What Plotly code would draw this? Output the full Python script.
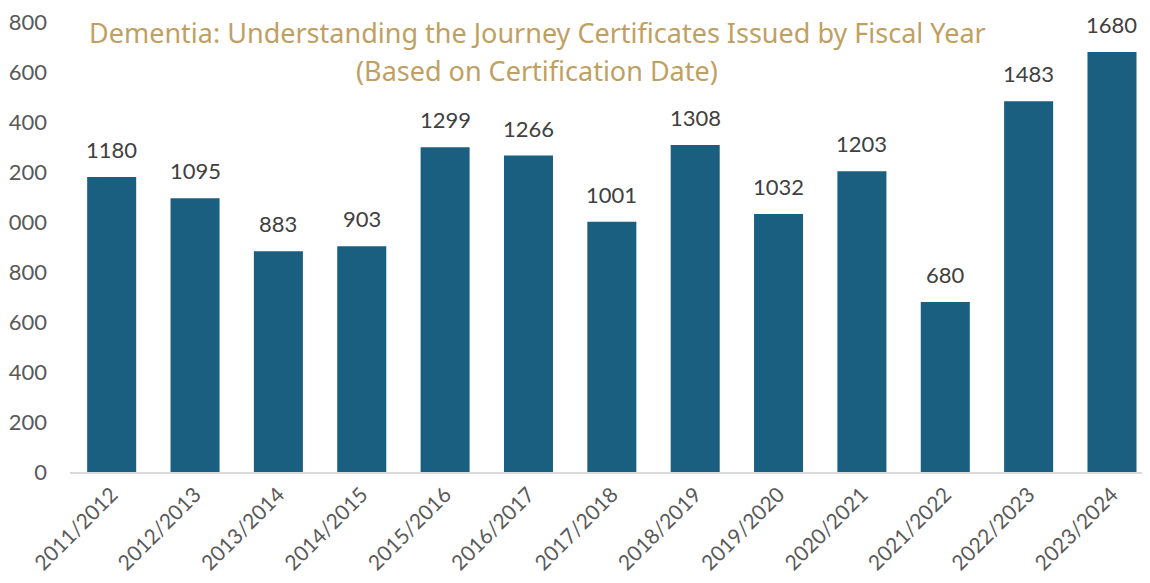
import plotly.graph_objects as go

years = ["2011/2012", "2012/2013", "2013/2014", "2014/2015", "2015/2016", "2016/2017",
         "2017/2018", "2018/2019", "2019/2020", "2020/2021", "2021/2022", "2022/2023", "2023/2024"]
certificates = [1180, 1095, 883, 903, 1299, 1266, 1001, 1308, 1032, 1203, 680, 1483, 1680]

# y tick values and the labels as they appear (leading digit cut off in the source)
y_ticks = [0, 200, 400, 600, 800, 1000, 1200, 1400, 1600, 1800]
y_tick_text = ["0", "200", "400", "600", "800", "000", "200", "400", "600", "800"]

title_line1 = "Dementia: Understanding the Journey Certificates Issued by Fiscal Year"
title_line2 = "(Based on Certification Date)"

fig = go.Figure(go.Bar(
    x=years, y=certificates,
    marker_color="#1A5F80",
    marker_line_width=0,
))

# value labels above bars
for yr, val in zip(years, certificates):
    fig.add_annotation(x=yr, y=val, text=str(val), showarrow=False,
                       yanchor="bottom", yshift=12,
                       font=dict(size=22, color="#404040", family="Lato"))

# page has an 8px body margin; keep the figure inside the window so nothing gets cut
plot_top, plot_bottom, fig_h = 14, 100, 567
plot_h = fig_h - plot_top - plot_bottom
fig_w, plot_left = 1134, 62
plot_w = fig_w - plot_left


def paper_y(page_px):
    return 1 + (plot_top - (page_px - 8)) / plot_h


def paper_x(page_px):
    return (page_px - 8 - plot_left) / plot_w


fig.add_annotation(text=title_line1, x=paper_x(537), y=paper_y(33), xref="paper", yref="paper",
                   showarrow=False, yanchor="middle",
                   font=dict(size=27, color="#C0A062", family="Noto Sans"))
fig.add_annotation(text=title_line2, x=paper_x(537), y=paper_y(71), xref="paper", yref="paper",
                   showarrow=False, yanchor="middle",
                   font=dict(size=27, color="#C0A062", family="Noto Sans"))

fig.update_layout(
    width=fig_w, height=fig_h,
    margin=dict(l=plot_left, r=0, t=plot_top, b=plot_bottom),
    plot_bgcolor="white", paper_bgcolor="white",
    bargap=0.412,
    showlegend=False,
    font=dict(family="Lato"),
)

fig.update_xaxes(
    range=[-0.5, 12.36],
    tickangle=-45,
    tickfont=dict(size=21, color="#595959", family="Lato"),
    showline=True, linecolor="#D9D9D9", linewidth=2,
    ticks="",
)
fig.update_yaxes(
    range=[0, 1800],
    tickvals=y_ticks, ticktext=y_tick_text,
    tickfont=dict(size=22, color="#595959", family="Lato"),
    showgrid=False, zeroline=False,
    ticks="", ticklabelstandoff=22, ticklabeloverflow="allow",
)

fig.write_html("out.html")
